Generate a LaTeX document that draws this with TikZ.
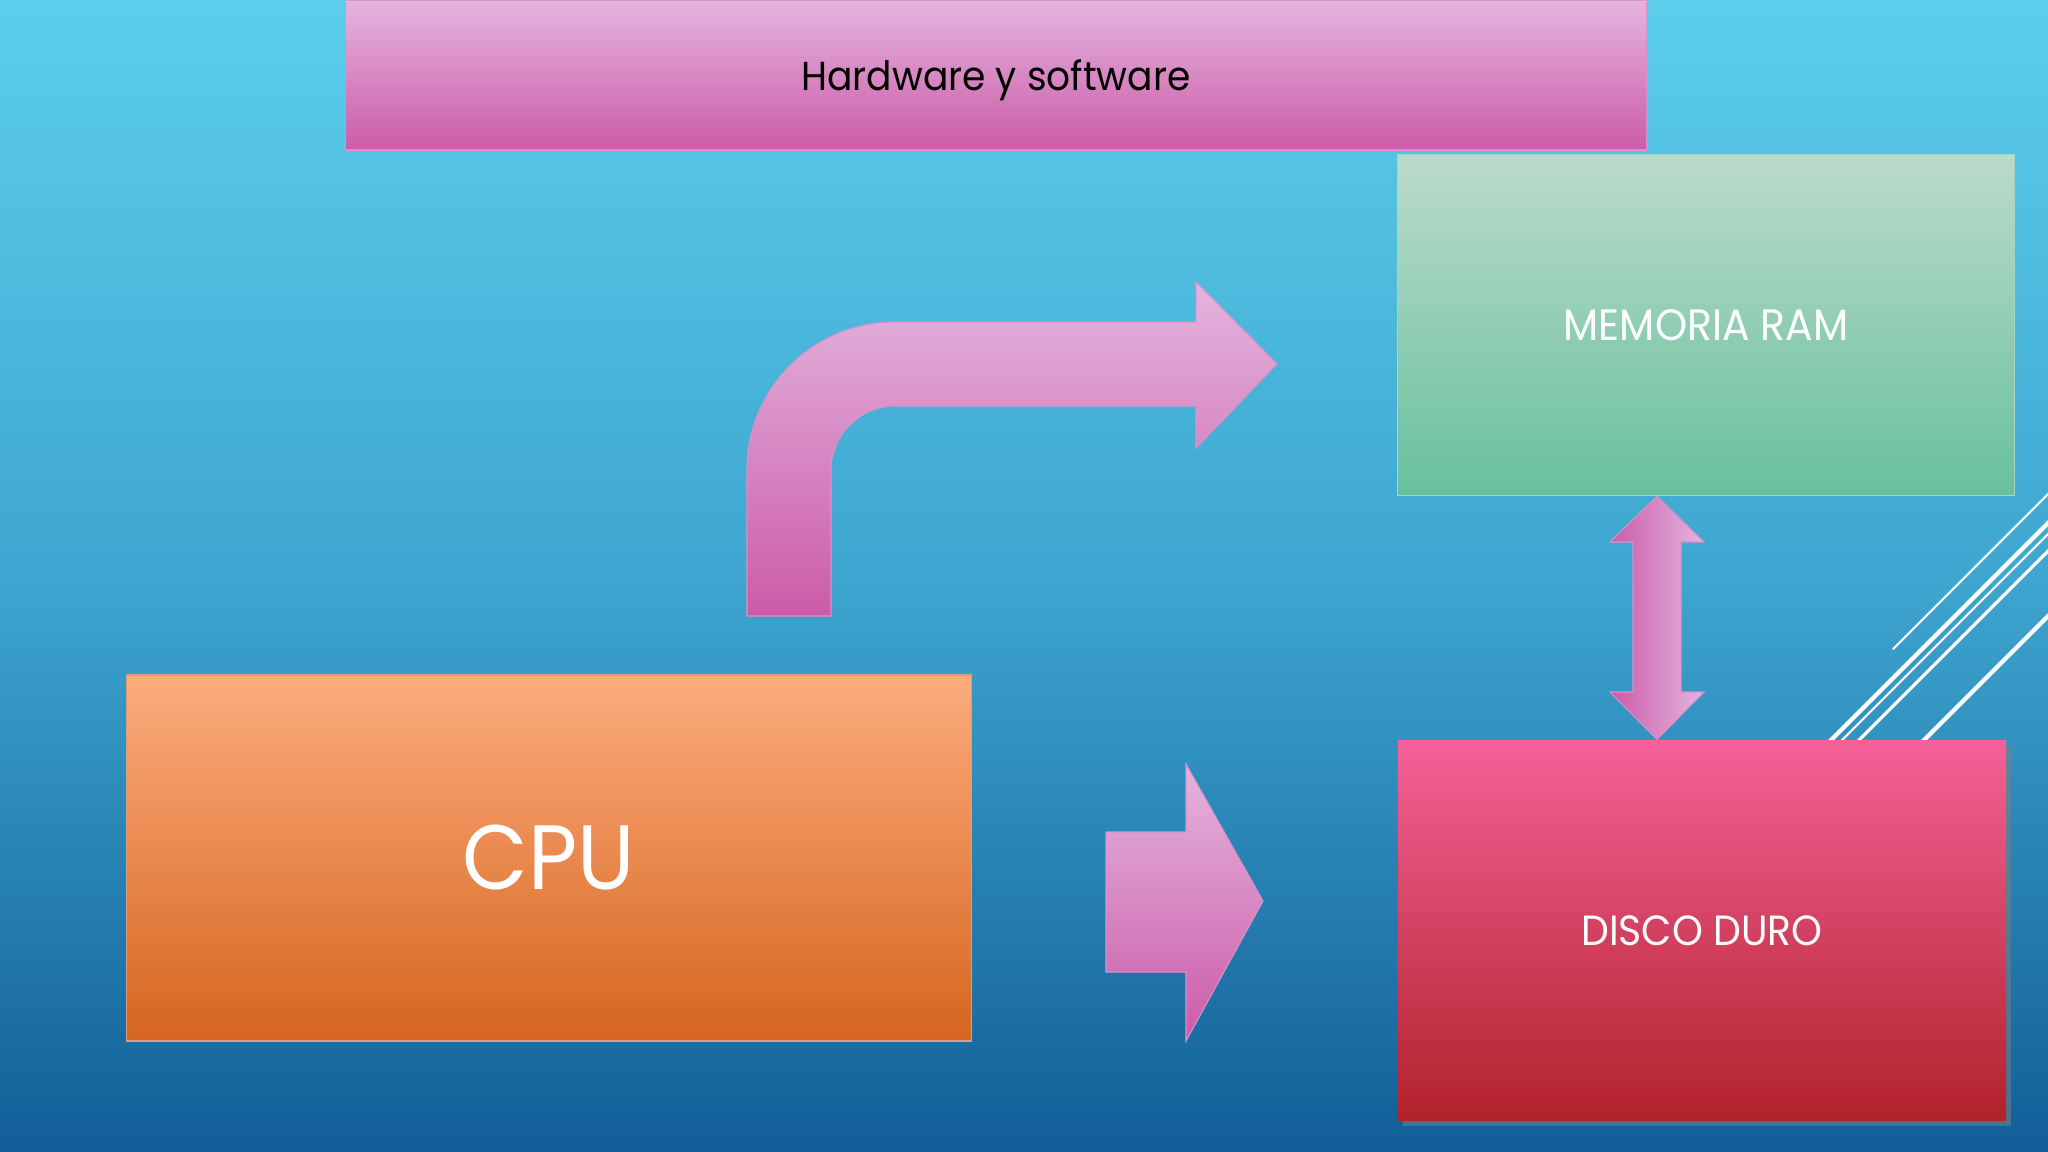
\documentclass[tikz,border=0pt]{standalone}
\usepackage{fontspec}
\setmainfont[FakeStretch=0.93]{Poppins}
\usepackage{tikz}
\usetikzlibrary{positioning}
\usetikzlibrary{shadows}
\definecolor{fondoarriba}{RGB}{92,206,236}
\definecolor{fondomedio}{RGB}{62,166,208}
\definecolor{fondoabajo}{RGB}{18,94,152}
\definecolor{rosaclaro}{RGB}{227,181,222}
\definecolor{rosaoscuro}{RGB}{204,91,168}
\definecolor{verdeclaro}{RGB}{187,219,202}
\definecolor{verdeoscuro}{RGB}{103,192,158}
\definecolor{discoarriba}{RGB}{245,97,152}
\definecolor{discoabajo}{RGB}{178,34,42}
\definecolor{cpuarriba}{RGB}{252,172,125}
\definecolor{cpuabajo}{RGB}{214,101,31}
\tikzset{
    caja/.style={rectangle, inner sep=0pt, text=white},
    flecha/.style={top color=rosaclaro, bottom color=rosaoscuro, draw=rosaclaro!60!rosaoscuro, line width=0.3pt},
    raya/.style={white, line cap=round},
}

\begin{document}
\begin{tikzpicture}[x=0.01cm, y=-0.01cm]
    \useasboundingbox (0,0) rectangle (2048,1152);
    \shade[top color=fondoarriba, bottom color=fondoabajo, middle color=fondomedio] (0,0) rectangle (2048,1152);
    \begin{scope}
        \clip (0,0) rectangle (2048,1152);
        \draw[raya, line width=0.6pt] (1893,649) -- (2100,442);
        \draw[raya, line width=1.2pt] (1811,760) -- (2100,471);
        \draw[raya, line width=0.6pt] (1822,760) -- (2100,482);
        \draw[raya, line width=0.9pt] (1839,760) -- (2100,499);
        \draw[raya, line width=1.2pt] (1904,760) -- (2100,564);
    \end{scope}
    \node[caja, text=black, top color=rosaclaro, bottom color=rosaoscuro, draw=rosaclaro!60!rosaoscuro,
          text height=10pt, text depth=1.4pt,
          minimum width=13cm, minimum height=1.5cm] (titulo) at (996,75) {\fontsize{11.5}{14}\selectfont Hardware y software};
    \node[caja, top color=verdeclaro, bottom color=verdeoscuro, draw=verdeclaro!80!verdeoscuro,
          minimum width=6.17cm, minimum height=3.41cm] (ram) at (1706,325) {\fontsize{12.5}{15}\selectfont MEMORIA RAM};
    \node[caja, top color=discoarriba, bottom color=discoabajo,
          drop shadow={opacity=0.5, shadow xshift=0.5mm, shadow yshift=-0.6mm},
          minimum width=6.08cm, minimum height=3.8cm, below=2.43cm of ram, xshift=-0.04cm] (disco) {\fontsize{12}{15}\selectfont DISCO DURO};
    \node[caja, top color=cpuarriba, bottom color=cpuabajo, draw=cpuarriba!70!gray,
          minimum width=8.45cm, minimum height=3.66cm] (cpu) at (549,858) {\fontsize{26}{30}\selectfont CPU};
    \path[flecha] (747,616) -- (747,470) .. controls (747,388) and (813,322) .. (895,322)
        -- (1196,322) -- (1196,282) -- (1277,364) -- (1196,448) -- (1196,406) -- (895,406)
        .. controls (860,406) and (831,435) .. (831,470) -- (831,616) -- cycle;
    \path[flecha] (1106,832) -- (1186,832) -- (1186,764) -- (1263,901) -- (1186,1041) -- (1186,972) -- (1106,972) -- cycle;
    \path[flecha, left color=rosaoscuro, right color=rosaclaro] (ram.south -| 1657,0) -- (1704,542) -- (1681,542) -- (1681,692) -- (1704,692)
        -- (disco.north -| 1657,0) -- (1610,692) -- (1633,692) -- (1633,542) -- (1610,542) -- cycle;
\end{tikzpicture}
\end{document}
